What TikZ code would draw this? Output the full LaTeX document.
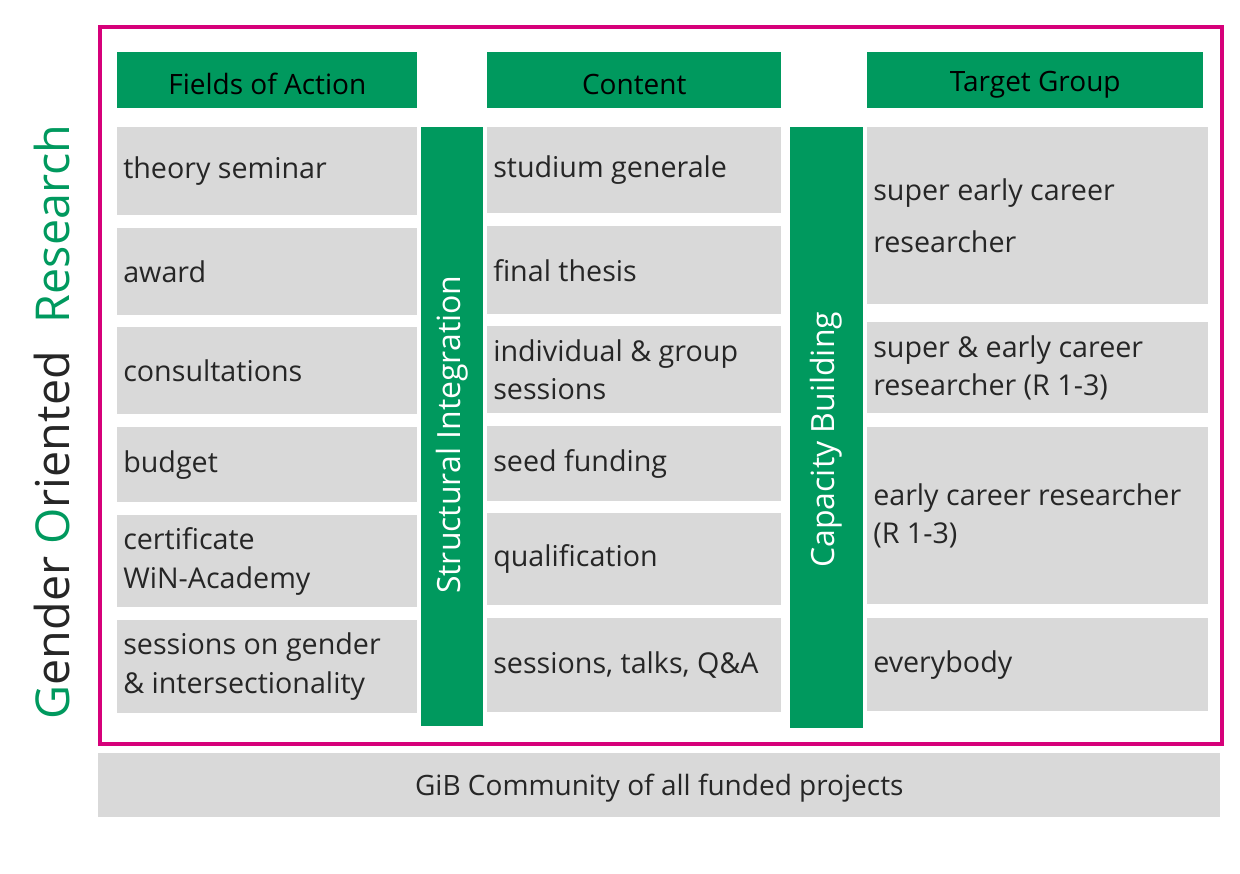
\documentclass[tikz,border=0pt]{standalone}
\usepackage{fontspec}
\setmainfont{Open Sans}
\definecolor{gibgreen}{RGB}{0,153,94}
\definecolor{gibgray}{RGB}{217,217,217}
\definecolor{gibpink}{RGB}{214,0,122}
\definecolor{gibtext}{RGB}{38,38,38}
\tikzset{
  cell/.style={fill=gibgray, anchor=north west, inner sep=0pt, text=gibtext, align=left},
  head/.style={fill=gibgreen, anchor=north west, inner sep=0pt, font=\fontsize{21}{24}\selectfont, text=black},
  bar/.style={fill=gibgreen, anchor=north west, inner sep=0pt},
  bartext/.style={rotate=90, text=white, font=\fontsize{24}{28}\selectfont, text height=17pt, text depth=5pt},
}
\newcommand{\gibcell}[6]{% name, x, y, w, h, text
  \node[cell, minimum width=#4*0.75pt, minimum height=#5*0.75pt] (#1) at (#2,#3) {};
  \node[anchor=west, inner sep=0pt, align=left, font=\fontsize{21.5}{29}\selectfont, text=gibtext] (#1t) at ([xshift=6*0.75pt]#1.west) {#6};
}
\begin{document}
\begin{tikzpicture}[x=0.75pt,y=0.75pt,yscale=-1,xscale=1]
\useasboundingbox (0,0) rectangle (1240,874);

%Frame
\node[draw=gibpink, line width=3pt, anchor=north west, minimum width=1122*0.75pt, minimum height=717*0.75pt] (frame) at (98,25) {};

%Headers
\node[head, minimum width=300*0.75pt, minimum height=56*0.75pt] (hfields) at (117,52) {};
\node[font=\fontsize{21}{24}\selectfont] (hfieldst) at ([yshift=3pt]hfields.center) {Fields of Action};
\node[head, minimum width=294*0.75pt, minimum height=56*0.75pt] (hcontent) at (487,52) {};
\node[font=\fontsize{21}{24}\selectfont] (hcontentt) at ([yshift=3pt]hcontent.center) {Content};
\node[head, minimum width=336*0.75pt, minimum height=56*0.75pt] (htarget) at (867,52) {};
\node[font=\fontsize{21}{24}\selectfont] (htargett) at ([yshift=3pt]htarget.center) {Target Group};

%Fields of Action
\gibcell{f1}{117}{127}{300}{88}{theory seminar}
\gibcell{f2}{117}{228}{300}{87}{award}
\gibcell{f3}{117}{327}{300}{87}{consultations}
\gibcell{f4}{117}{427}{300}{75}{budget}
\gibcell{f5}{117}{515}{300}{92}{certificate\\WiN-Academy}
\gibcell{f6}{117}{620}{300}{93}{sessions on gender\\\& intersectionality}

%Content
\gibcell{c1}{487}{127}{294}{86}{studium generale}
\gibcell{c2}{487}{226}{294}{88}{final thesis}
\gibcell{c3}{487}{326}{294}{87}{individual \& group\\sessions}
\gibcell{c4}{487}{426}{294}{75}{seed funding}
\gibcell{c5}{487}{513}{294}{92}{qualification}
\gibcell{c6}{487}{618}{294}{94}{sessions, talks, Q\&A}

%Target Group
\gibcell{t1}{867}{127}{341}{177}{super early career\\[0.9ex]researcher}
\gibcell{t2}{867}{322}{341}{91}{super \& early career\\researcher (R 1-3)}
\gibcell{t3}{867}{427}{341}{177}{early career researcher\\(R 1-3)}
\gibcell{t4}{867}{618}{341}{93}{everybody}

%Bars
\node[bar, minimum width=62*0.75pt, minimum height=599*0.75pt] (structural) at (421,127) {};
\node[bartext] (structuralt) at ([yshift=6pt]structural.center) {Structural Integration};
\node[bar, minimum width=73*0.75pt, minimum height=601*0.75pt] (capacity) at (790,127) {};
\node[bartext] (capacityt) at ([yshift=9pt]capacity.center) {Capacity Building};

%Community
\node[cell, minimum width=1122*0.75pt, minimum height=64*0.75pt] (community) at (98,753) {};
\node[text=gibtext, font=\fontsize{21}{24}\selectfont] (communityt) at ([yshift=2pt]community.center) {GiB Community of all funded projects};

%Side title
\node[rotate=90, font=\fontsize{35}{40}\selectfont, text=gibtext] (title) at (52,422)
  {\textcolor{gibgreen}{G}ender \textcolor{gibgreen}{O}riented\hspace{0.6em}\textcolor{gibgreen}{Research}};
\end{tikzpicture}
\end{document}
